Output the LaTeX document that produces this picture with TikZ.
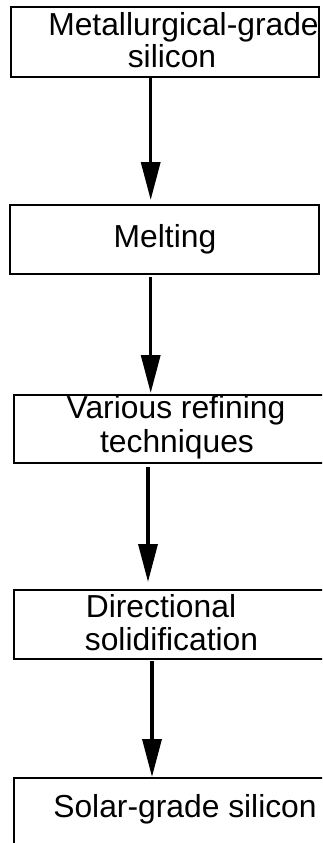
\documentclass[tikz,border=0pt]{standalone}
\usepackage{fontspec}
\setmainfont{Liberation Sans}
\usetikzlibrary{arrows.meta}
\begin{document}
\begin{tikzpicture}[x=1pt,y=-1pt,
  box/.style={draw=black,line width=2.2pt,rectangle,inner sep=0pt,outer sep=0pt,anchor=north west},
  lbl/.style={inner sep=0pt,anchor=base,font=\fontsize{31.8}{35}\selectfont},
  arr/.style={line width=3.5pt,-{Triangle[length=38pt,width=19pt]}}]
\clip (0,0) rectangle (322,843);
\fill[white] (0,0) rectangle (322,843);
% boxes
\node[box,minimum width=308pt,minimum height=70pt] (b1) at (11,7) {};
\node[box,minimum width=309pt,minimum height=69pt] (b2) at (10,205) {};
\node[box,minimum width=330pt,minimum height=68pt] (b3) at (14,395) {};
\node[box,minimum width=330pt,minimum height=69pt] (b4) at (14,590) {};
\node[box,minimum width=330pt,minimum height=90pt] (b5) at (14,778) {};
% labels
\node[lbl] (t1a) at (183.5,36) {Metallurgical-grade};
\node[lbl] (t1b) at (172,67) {silicon};
\node[lbl] (t2) at (165,247) {Melting};
\node[lbl] (t3a) at (176,418) {Various refining};
\node[lbl] (t3b) at (177,452) {techniques};
\node[lbl] (t4a) at (161,617) {Directional};
\node[lbl] (t4b) at (171.5,650) {solidification};
\node[lbl] (t5) at (185,817) {Solar-grade silicon};
% arrows
\draw[arr] ([xshift=139.7pt]b1.south west) -- ([xshift=140.7pt,yshift=5pt]b2.north west);
\draw[arr] ([xshift=140.7pt,yshift=-3pt]b2.south west) -- ([xshift=136.7pt,yshift=2pt]b3.north west);
\draw[arr] ([xshift=134pt,yshift=-4pt]b3.south west) -- ([xshift=134pt,yshift=8pt]b4.north west);
\draw[arr] ([xshift=138pt,yshift=-2pt]b4.south west) -- ([xshift=138pt,yshift=1pt]b5.north west);
\end{tikzpicture}
\end{document}
